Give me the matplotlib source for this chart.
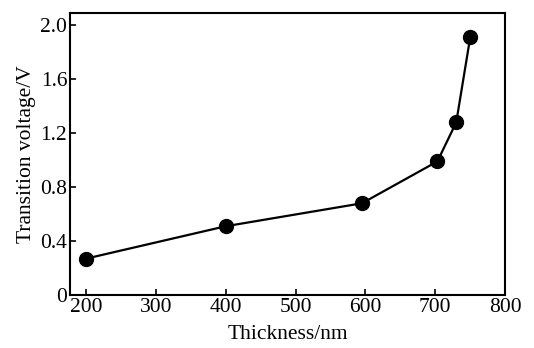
import matplotlib.pyplot as plt

thickness = [200, 400, 595, 703, 730, 750]
voltage = [0.27, 0.51, 0.68, 0.99, 1.28, 1.91]
x_ticks = [200, 300, 400, 500, 600, 700, 800]
y_ticks = [0, 0.4, 0.8, 1.2, 1.6, 2.0]
y_labels = ["0", "0.4", "0.8", "1.2", "1.6", "2.0"]

plt.rcParams['font.family'] = ['Liberation Serif', 'DejaVu Serif']

fig = plt.figure(figsize=(5.34, 3.48), dpi=100)
ax = fig.add_axes([0.131, 0.152, 0.815, 0.811])

ax.plot(thickness, voltage, color='black', lw=1.6, marker='o', ms=10,
        markerfacecolor='black', markeredgecolor='black')

ax.set_xlim(177, 800)
ax.set_ylim(0, 2.09)
ax.set_xticks(x_ticks)
ax.set_yticks(y_ticks)
ax.set_yticklabels(y_labels)
ax.tick_params(direction='in', length=4, width=1.2, labelsize=15.5, pad=2)
for s in ax.spines.values():
    s.set_linewidth(1.5)

ax.set_xlabel("Thickness/nm", fontsize=15.5, labelpad=6)
ax.set_ylabel("Transition voltage/V", fontsize=15.5, labelpad=3)

fig.savefig("out.png", dpi=100)
